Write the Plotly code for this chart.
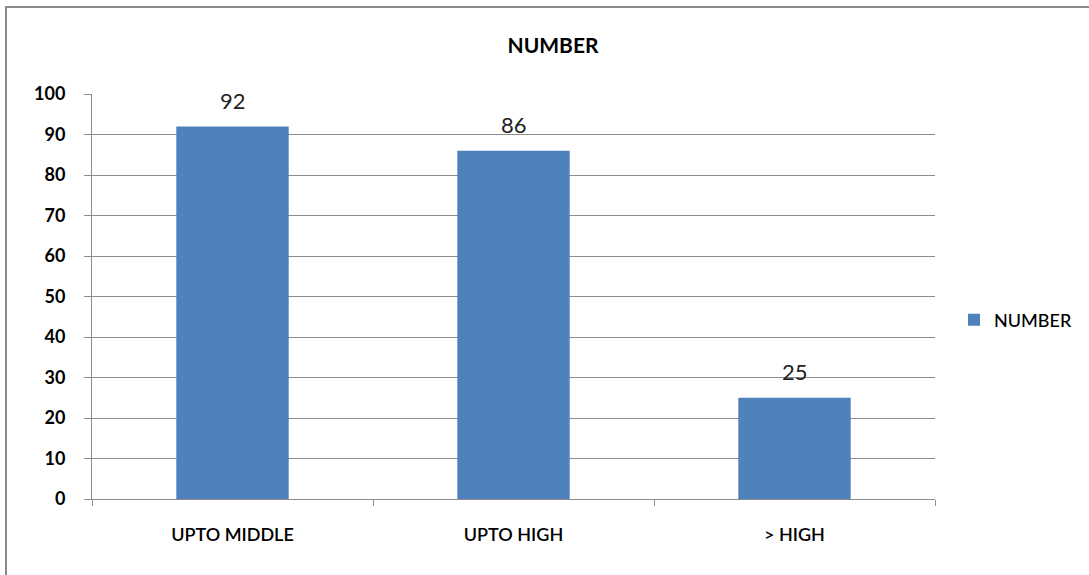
import plotly.graph_objects as go

categories = ["UPTO MIDDLE", "UPTO HIGH", "> HIGH"]
values = [92, 86, 25]
series_name = "NUMBER"
y_ticks = [0, 10, 20, 30, 40, 50, 60, 70, 80, 90, 100]

W, H = 1089, 575
L, R, T, B = 92, 154, 94, 76
pw, ph = W - L - R, H - T - B

FONT = "Lato, 'Liberation Sans', sans-serif"
BAR = "#4F81BD"
GRID = "#8c8c8c"

fig = go.Figure()
fig.add_trace(go.Bar(
    x=categories, y=values, name=series_name,
    marker=dict(color=BAR, line=dict(width=0)),
))

# value labels above each bar
for c, v in zip(categories, values):
    fig.add_annotation(x=c, y=v, text=str(v), showarrow=False,
                       yshift=26, yanchor="middle",
                       font=dict(family=FONT, size=22, color="#222"))


def px_x(p):
    return (p - L) / pw


def px_y(p):
    return (H - B - p) / ph


# outer chart frame
fig.add_shape(type="rect", xref="paper", yref="paper",
              x0=px_x(6), x1=px_x(1100), y0=px_y(585), y1=px_y(7),
              line=dict(color="#8a8a8a", width=2), layer="below")

fig.update_layout(
    width=W, height=H,
    margin=dict(l=L, r=R, t=T, b=B, autoexpand=False),
    paper_bgcolor="white", plot_bgcolor="white",
    bargap=0.6,
    font=dict(family=FONT, color="#000"),
    title=dict(text="<b>NUMBER</b>", x=px_x(553), xref="paper", xanchor="center",
               y=1 - 46 / H, yanchor="middle",
               font=dict(family=FONT, size=21, color="#000")),
    showlegend=True,
    legend=dict(x=px_x(954), y=px_y(320), xref="paper", yref="paper",
                xanchor="left", yanchor="middle",
                font=dict(family=FONT, size=18, color="#000", weight=500),
                itemwidth=30, bgcolor="rgba(0,0,0,0)"),
    xaxis=dict(
        showline=True, linecolor=GRID, linewidth=1,
        ticks="outside", tickson="boundaries", ticklen=6, tickcolor=GRID,
        tickfont=dict(family=FONT, size=18, color="#000", weight=600),
        ticklabelstandoff=19,
        showgrid=False,
    ),
    yaxis=dict(
        range=[0, 100], tickvals=y_ticks,
        showline=True, linecolor=GRID, linewidth=1,
        ticks="outside", ticklen=7, tickcolor=GRID,
        showgrid=True, gridcolor=GRID, gridwidth=1,
        tickfont=dict(family=FONT, size=18, color="#000", weight="bold"),
        ticklabelstandoff=15,
        zeroline=False,
    ),
)

fig.write_html("out.html")
